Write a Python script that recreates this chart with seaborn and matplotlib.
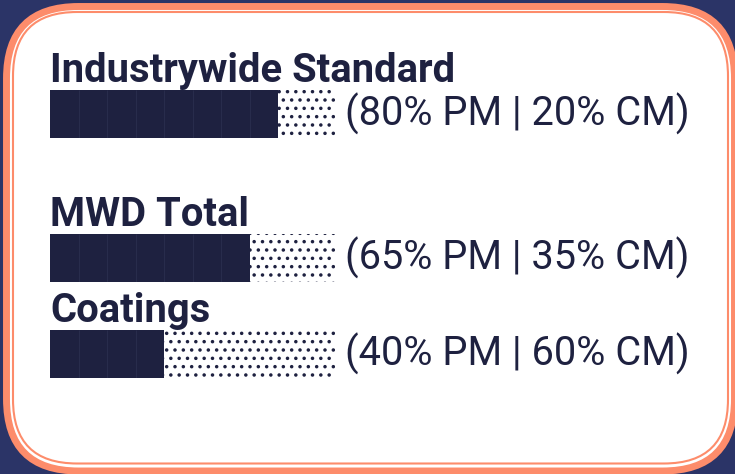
import matplotlib
matplotlib.use("Agg")
import matplotlib.pyplot as plt
from matplotlib.patches import FancyBboxPatch
import seaborn as sns

# ── Data ────────────────────────────────────────────────────────────────────
categories = ["Industrywide Standard", "MWD Total", "Coatings"]
pm_share = [80, 65, 40]   # % PM
cm_share = [20, 35, 60]   # % CM

NAVY = "#1e2140"
BG = "#2b3467"
ORANGE = "#fd8c6b"

sns.set_theme(style="white")
plt.rcParams["font.family"] = ["Roboto", "DejaVu Sans"]
plt.rcParams["hatch.color"] = NAVY
plt.rcParams["hatch.linewidth"] = 1.3

W, H = 7.35, 4.74
fig = plt.figure(figsize=(W, H), dpi=100, facecolor=BG)

# ── Rounded card with double orange border ─────────────────────────────────
outer = FancyBboxPatch((0.065, 0.03), 7.28, 4.645,
                       boxstyle="round,pad=0,rounding_size=0.72",
                       transform=fig.dpi_scale_trans, facecolor="white",
                       edgecolor=ORANGE, linewidth=5.0, zorder=-3)
inner = FancyBboxPatch((0.13, 0.105), 7.15, 4.515,
                       boxstyle="round,pad=0,rounding_size=0.64",
                       transform=fig.dpi_scale_trans, facecolor="none",
                       edgecolor=ORANGE, linewidth=1.5, zorder=-2)
fig.patches.extend([outer, inner])

# bar rows (top pixel of each bar); bars are 48 px tall, 0-100% spans 285 px
bar_tops = [90, 234, 330]
x0, bar_w, bar_h = 50, 285, 48

for cat, pm, cm, top in zip(categories, pm_share, cm_share, bar_tops):
    ax = fig.add_axes([x0 / 735, 1 - (top + bar_h) / 474, bar_w / 735, bar_h / 474])
    ax.patch.set_alpha(0)

    # full-length dotted bar = CM background
    sns.barplot(x=[100], y=[cat], orient="h", color="white", saturation=1,
                width=1, hatch="..", edgecolor=NAVY, linewidth=0, ax=ax)
    # solid blocks for PM, one block per 10 %
    blocks = int(pm / 10 + 0.5)
    sns.barplot(x=[blocks * 10], y=[cat], orient="h", color=NAVY, saturation=1,
                width=1, linewidth=0, ax=ax)
    ax.vlines([10 * i for i in range(1, blocks)], -0.5, 0.5,
              color="#292d4d", linewidth=0.7)

    ax.set_xlim(0, 100)
    ax.set_ylim(0.5, -0.5)
    ax.axis("off")

    ax.text(0, 1.17, cat, transform=ax.transAxes, ha="left", va="baseline",
            fontsize=28.8, fontweight="bold", color=NAVY,
            fontfamily=["Roboto", "DejaVu Sans"])
    ax.text(1.035, 0.5, f"({pm}% PM | {cm}% CM)", transform=ax.transAxes,
            ha="left", va="center", fontsize=28.6, color=NAVY,
            fontfamily=["Roboto", "DejaVu Sans"])

fig.savefig("out.png", dpi=100, facecolor=fig.get_facecolor())
